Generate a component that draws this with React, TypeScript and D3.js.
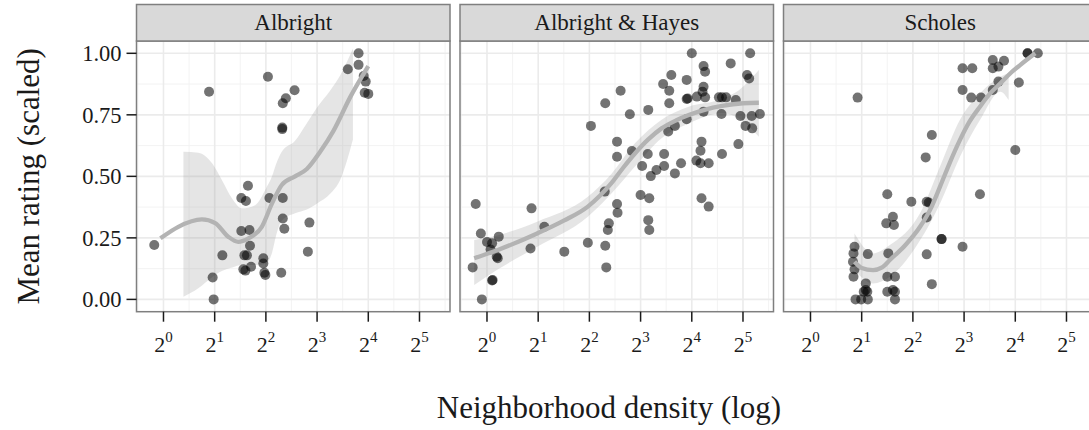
import React from 'react';
import * as d3 from 'd3';

// facet names
const facets = ['Albright', 'Albright & Hayes', 'Scholes'];

// points: log2(neighborhood density), mean rating (scaled)
const albrightX = [-0.18, 0.89, 2.04, 2.56, 2.39, 2.33, 2.32, 2.32, 3.81, 3.81, 3.6, 3.91, 3.95, 3.93, 4.0, 1.65, 1.52, 1.61, 2.07, 2.33, 2.33, 2.36, 2.85, 1.52, 1.68, 1.69, 1.15, 1.58, 1.63, 2.82, 1.95, 1.95, 1.71, 1.56, 1.6, 1.97, 1.99, 2.3, 0.96, 0.98];
const albrightY = [0.221, 0.844, 0.905, 0.85, 0.817, 0.797, 0.698, 0.692, 1.0, 0.953, 0.935, 0.908, 0.885, 0.84, 0.835, 0.462, 0.412, 0.4, 0.412, 0.412, 0.329, 0.287, 0.312, 0.278, 0.282, 0.218, 0.179, 0.179, 0.179, 0.194, 0.167, 0.146, 0.133, 0.122, 0.117, 0.108, 0.099, 0.108, 0.089, 0.0];

const hayesX = [-0.28, -0.22, -0.12, -0.1, 0.0, 0.1, 0.07, 0.19, 0.21, 0.23, 0.11, 0.1, 0.87, 0.85, 1.12, 1.51, 1.97, 2.03, 2.31, 2.3, 2.31, 2.33, 2.38, 2.36, 2.54, 2.55, 2.54, 2.54, 2.61, 2.79, 2.83, 3.0, 3.17, 3.15, 3.14, 3.03, 3.15, 3.17, 3.2, 3.31, 3.46, 3.46, 3.54, 3.67, 3.67, 3.79, 3.56, 3.56, 3.44, 3.6, 3.9, 3.9, 3.92, 3.9, 4.0, 4.1, 4.09, 4.17, 4.19, 4.17, 4.23, 4.26, 4.23, 4.21, 4.26, 4.23, 4.33, 4.19, 4.33, 4.53, 4.59, 4.67, 4.58, 4.59, 4.76, 4.86, 4.91, 4.95, 5.05, 5.08, 5.12, 5.14, 5.17, 5.18, 5.33];
const hayesY = [0.13, 0.388, 0.268, 0.0, 0.233, 0.228, 0.203, 0.173, 0.167, 0.255, 0.079, 0.077, 0.37, 0.207, 0.295, 0.194, 0.23, 0.705, 0.797, 0.438, 0.218, 0.13, 0.309, 0.282, 0.388, 0.352, 0.641, 0.58, 0.848, 0.752, 0.603, 0.424, 0.411, 0.77, 0.591, 0.542, 0.322, 0.282, 0.501, 0.526, 0.542, 0.591, 0.682, 0.705, 0.512, 0.553, 0.797, 0.848, 0.875, 0.912, 0.892, 0.814, 0.816, 0.732, 1.0, 0.824, 0.564, 0.604, 0.641, 0.553, 0.948, 0.925, 0.864, 0.844, 0.821, 0.763, 0.553, 0.411, 0.377, 0.821, 0.821, 0.821, 0.753, 0.591, 0.959, 0.81, 0.631, 0.745, 0.705, 0.912, 0.898, 1.0, 0.745, 0.695, 0.753];

const scholesX = [0.92, 0.86, 0.84, 0.83, 0.86, 0.84, 0.88, 0.99, 1.12, 1.04, 1.08, 1.11, 1.12, 1.08, 1.5, 1.97, 2.27, 2.31, 2.27, 1.48, 1.61, 1.63, 1.52, 1.5, 1.65, 1.5, 1.65, 1.61, 1.65, 2.27, 2.37, 2.56, 2.56, 2.25, 2.37, 2.97, 3.31, 2.97, 3.16, 2.97, 3.14, 3.33, 3.56, 3.56, 3.67, 3.78, 3.67, 3.56, 4.0, 4.07, 4.24, 4.24, 4.44];
const scholesY = [0.82, 0.214, 0.187, 0.153, 0.122, 0.092, 0.0, 0.0, 0.0, 0.031, 0.038, 0.031, 0.184, 0.065, 0.427, 0.397, 0.397, 0.394, 0.333, 0.309, 0.336, 0.302, 0.187, 0.092, 0.092, 0.031, 0.031, 0.038, 0.0, 0.183, 0.062, 0.245, 0.245, 0.577, 0.668, 0.214, 0.427, 0.939, 0.939, 0.851, 0.82, 0.82, 0.973, 0.939, 0.946, 0.97, 0.885, 0.851, 0.607, 0.881, 1.0, 1.0, 1.0];

// loess fit
const albrightFitX = [-0.06, 0.29, 0.75, 1.01, 1.27, 1.46, 1.66, 1.92, 2.12, 2.31, 2.57, 2.8, 3.06, 3.32, 3.65, 4.0];
const albrightFitY = [0.248, 0.295, 0.325, 0.31, 0.254, 0.234, 0.248, 0.295, 0.39, 0.465, 0.5, 0.53, 0.6, 0.685, 0.823, 0.948];
const albrightBandX = [0.39, 0.68, 0.95, 1.14, 1.34, 1.53, 1.79, 2.0, 2.12, 2.2, 2.31, 2.57, 2.8, 3.0, 3.26, 3.45, 3.7];
const albrightBandHi = [0.6, 0.596, 0.553, 0.485, 0.41, 0.37, 0.383, 0.45, 0.5, 0.55, 0.6, 0.645, 0.716, 0.78, 0.85, 0.91, 1.02];
const albrightBandLo = [0.011, 0.045, 0.09, 0.115, 0.13, 0.14, 0.14, 0.145, 0.19, 0.26, 0.32, 0.35, 0.365, 0.39, 0.43, 0.485, 0.65];

const hayesFitX = [-0.25, 0.2, 0.98, 1.5, 1.97, 2.2, 2.43, 2.66, 2.89, 3.15, 3.41, 3.7, 3.94, 4.25, 4.59, 5.0, 5.31];
const hayesFitY = [0.167, 0.2, 0.268, 0.32, 0.377, 0.42, 0.472, 0.535, 0.593, 0.65, 0.695, 0.728, 0.749, 0.77, 0.786, 0.797, 0.799];
const hayesBandX = [-0.25, 0.2, 0.98, 1.97, 2.43, 2.89, 3.41, 3.94, 4.59, 4.92, 5.31];
const hayesBandHi = [0.241, 0.26, 0.316, 0.417, 0.51, 0.634, 0.73, 0.783, 0.814, 0.85, 0.932];
const hayesBandLo = [0.058, 0.12, 0.214, 0.336, 0.43, 0.54, 0.655, 0.715, 0.756, 0.735, 0.661];

const scholesFitX = [0.86, 1.0, 1.22, 1.4, 1.55, 1.85, 2.14, 2.35, 2.53, 2.72, 2.92, 3.1, 3.31, 3.5, 3.71, 3.9, 4.1, 4.39];
const scholesFitY = [0.153, 0.128, 0.119, 0.13, 0.16, 0.22, 0.295, 0.37, 0.458, 0.555, 0.648, 0.72, 0.783, 0.835, 0.878, 0.918, 0.953, 1.0];
const scholesBandX = [0.86, 1.22, 1.55, 2.14, 2.53, 2.92, 3.31, 3.71, 3.87];
const scholesBandHi = [0.268, 0.187, 0.221, 0.35, 0.54, 0.73, 0.837, 0.905, 0.92];
const scholesBandLo = [0.119, 0.065, 0.092, 0.24, 0.39, 0.58, 0.729, 0.844, 0.81];

const xTicks = [0, 1, 2, 3, 4, 5];
const xMinor = [-0.5, 0.5, 1.5, 2.5, 3.5, 4.5, 5.5];
const yTicks = [0, 0.25, 0.5, 0.75, 1];
const yMinor = [0.125, 0.375, 0.625, 0.875];

const panels = [
  { name: facets[0], x: albrightX, y: albrightY, fx: albrightFitX, fy: albrightFitY, bx: albrightBandX, hi: albrightBandHi, lo: albrightBandLo },
  { name: facets[1], x: hayesX, y: hayesY, fx: hayesFitX, fy: hayesFitY, bx: hayesBandX, hi: hayesBandHi, lo: hayesBandLo },
  { name: facets[2], x: scholesX, y: scholesY, fx: scholesFitX, fy: scholesFitY, bx: scholesBandX, hi: scholesBandHi, lo: scholesBandLo },
];

const W = 1089;
const H = 430;
const left0 = 136.5;
const panelW = 313.5;
const step = 323.5;
const stripTop = 4.5;
const top = 41;
const bottom = 311.7;
const font = '"Liberation Serif", "DejaVu Serif", serif';
const border = '#7f7f7f';
const ink = '#1a1a1a';

export default function App() {
  const x = d3.scaleLinear().domain([-0.527, 5.596]).range([0, panelW]);
  const y = d3.scaleLinear().domain([-0.05, 1.05]).range([bottom, top]);

  const line = d3.line<number>().curve(d3.curveMonotoneX);
  const area = d3.area<number>().curve(d3.curveMonotoneX);

  return (
    <svg width={W} height={H} style={{ position: 'absolute', left: 0, top: 0 }}>
      <defs>
        {panels.map((p, i) => (
          <clipPath id={`clip${i}`} key={p.name}>
            <rect x={0} y={top} width={panelW} height={bottom - top} />
          </clipPath>
        ))}
      </defs>
      <rect width={W} height={H} fill="#fff" />
      {panels.map((p, i) => {
        const ox = left0 + i * step;
        const idx = d3.range(p.x.length);
        const fitPath = line
          .x((k) => x(p.fx[k]))
          .y((k) => y(p.fy[k]))(d3.range(p.fx.length));
        const bandPath = area
          .x((k) => x(p.bx[k]))
          .y0((k) => y(p.lo[k]))
          .y1((k) => y(p.hi[k]))(d3.range(p.bx.length));
        return (
          <g key={p.name} transform={`translate(${ox},0)`}>
            <rect x={0} y={top} width={panelW} height={bottom - top} fill="#fff" />
            {xMinor.map((t) => (
              <line key={`xm${t}`} x1={x(t)} x2={x(t)} y1={top} y2={bottom} stroke="#f2f2f2" strokeWidth={0.9} />
            ))}
            {yMinor.map((t) => (
              <line key={`ym${t}`} x1={0} x2={panelW} y1={y(t)} y2={y(t)} stroke="#f2f2f2" strokeWidth={0.9} />
            ))}
            {xTicks.map((t) => (
              <line key={`x${t}`} x1={x(t)} x2={x(t)} y1={top} y2={bottom} stroke="#ebebeb" strokeWidth={1.6} />
            ))}
            {yTicks.map((t) => (
              <line key={`y${t}`} x1={0} x2={panelW} y1={y(t)} y2={y(t)} stroke="#ebebeb" strokeWidth={1.6} />
            ))}
            <g clipPath={`url(#clip${i})`}>
              <path d={bandPath ?? ''} fill="#999999" fillOpacity={0.25} />
              {idx.map((k) => (
                <circle key={k} cx={x(p.x[k])} cy={y(p.y[k])} r={5} fill="#000" fillOpacity={0.55} />
              ))}
              <path d={fitPath ?? ''} fill="none" stroke="#b3b3b3" strokeWidth={4.3} />
            </g>
            <rect x={0} y={top} width={panelW} height={bottom - top} fill="none" stroke={border} strokeWidth={1.5} />
            <rect x={0} y={stripTop} width={panelW} height={top - stripTop} fill="#d9d9d9" stroke={border} strokeWidth={1.5} />
            <text x={panelW / 2} y={30} textAnchor="middle" fontFamily={font} fontSize={23} fill={ink}>
              {p.name}
            </text>
            {xTicks.map((t) => (
              <g key={`xt${t}`}>
                <line x1={x(t)} x2={x(t)} y1={bottom} y2={bottom + 10} stroke={ink} strokeWidth={1.5} />
                <text x={x(t)} y={352} textAnchor="middle" fontFamily={font} fontSize={22} fill={ink}>
                  2<tspan dy={-10} fontSize={15}>{t}</tspan>
                </text>
              </g>
            ))}
          </g>
        );
      })}
      {yTicks.map((t) => (
        <g key={`yt${t}`}>
          <line x1={left0 - 10} x2={left0} y1={y(t)} y2={y(t)} stroke={ink} strokeWidth={1.5} />
          <text x={left0 - 15} y={y(t)} dy="0.35em" textAnchor="end" fontFamily={font} fontSize={22.5} fill={ink}>
            {d3.format('.2f')(t)}
          </text>
        </g>
      ))}
      <text x={609} y={418} textAnchor="middle" fontFamily={font} fontSize={31} fill={ink}>
        Neighborhood density (log)
      </text>
      <text transform={`translate(39,${(top + bottom) / 2}) rotate(-90)`} textAnchor="middle" fontFamily={font} fontSize={31} fill={ink}>
        Mean rating (scaled)
      </text>
    </svg>
  );
}
